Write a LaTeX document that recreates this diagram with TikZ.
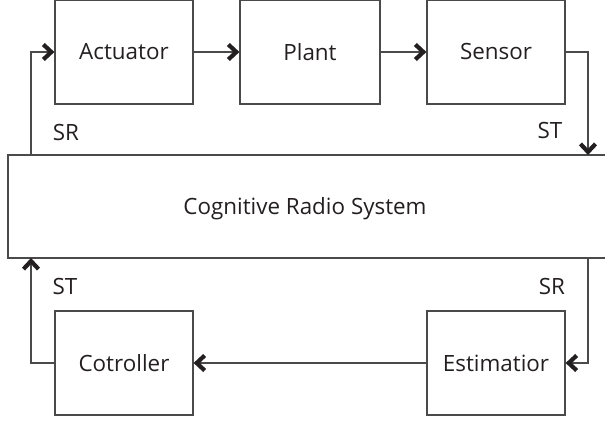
\documentclass[tikz,border=0pt]{standalone}
\usepackage{fontspec}
\setmainfont{Open Sans}
\usetikzlibrary{arrows.meta}
\definecolor{ink}{HTML}{231F20}
\definecolor{edge}{HTML}{4A4A4A}
\begin{document}
\begin{tikzpicture}[x=1pt,y=-1pt,
  blk/.style={draw=edge,line width=1.2pt,minimum width=138pt,minimum height=104pt,inner sep=0pt,text=ink,font=\fontsize{22.4}{26}\selectfont},
  lbl/.style={text=ink,font=\fontsize{22.4}{26}\selectfont,inner sep=0pt},
  conn/.style={draw=edge,line width=1.2pt,-{Straight Barb[length=8pt,width=15pt,line width=4.2pt,color=ink]}}]
\useasboundingbox (0,0) rectangle (605,422);
\clip (0,0) rectangle (605,422);
\node[blk] (act) at (124,52) {Actuator};
\node[blk,minimum width=140pt] (plant) at (310,52) {Plant};
\node[blk] (sen) at (496,52) {Sensor};
\node[blk] (ctrl) at (124,363) {Cotroller};
\node[blk] (est) at (496,363) {Estimatior};
\node[blk,minimum width=606pt,minimum height=103pt] (crs) at (311,206.5) {};
\node[lbl] (crstext) at (305,209) {Cognitive Radio System};
\coordinate (a1) at (31,155);
\coordinate (a2) at (588,155);
\coordinate (b1) at (588,258);
\coordinate (b2) at (31,258);
\draw[conn] (a1) |- (act.west);
\draw[conn] (act.east) -- (plant.west);
\draw[conn] (plant.east) -- (sen.west);
\draw[conn] (sen.east) -| (a2);
\draw[conn] (b1) |- (est.east);
\draw[conn] (est.west) -- (ctrl.east);
\draw[conn] (ctrl.west) -| (b2);
\node[lbl] (sr1) at (66,133) {SR};
\node[lbl] (st1) at (550,131) {ST};
\node[lbl] (st2) at (65,286) {ST};
\node[lbl] (sr2) at (552,286) {SR};
\end{tikzpicture}
\end{document}
